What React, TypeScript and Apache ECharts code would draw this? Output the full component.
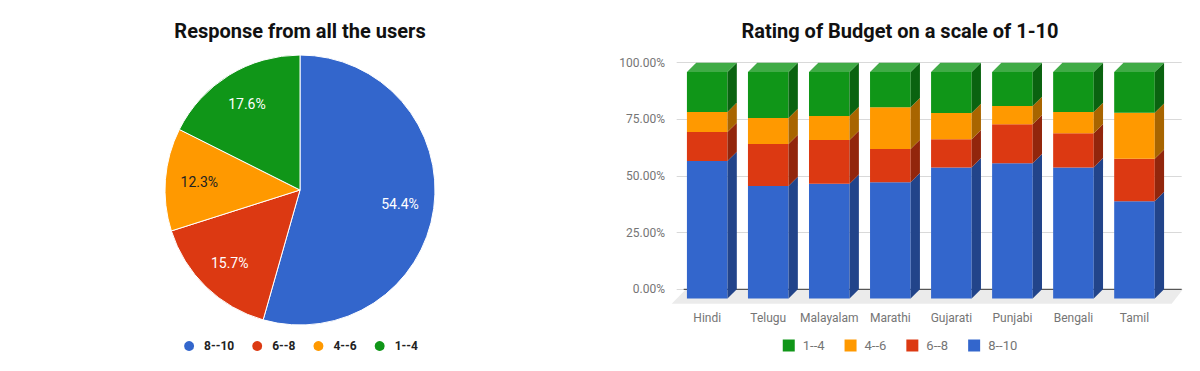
import React, { useEffect, useRef } from 'react';
import * as echarts from 'echarts';

// ---------- Pie data ----------
const pieNames = ['8--10', '6--8', '4--6', '1--4'];
const pieValues = [54.4, 15.7, 12.3, 17.6];
const pieColors = ['#3366cc', '#dc3912', '#ff9900', '#109618'];
const pieLabelColors = ['#ffffff', '#ffffff', '#222222', '#ffffff'];

// ---------- Bar data ----------
const categories = ['Hindi', 'Telugu', 'Malayalam', 'Marathi', 'Gujarati', 'Punjabi', 'Bengali', 'Tamil'];
const r8to10 = [60.7, 49.7, 50.7, 51.3, 57.9, 59.7, 57.9, 43.0];
const r6to8 = [12.8, 18.5, 19.3, 14.7, 12.4, 17.2, 15.1, 18.7];
const r4to6 = [8.9, 11.5, 10.6, 18.4, 11.6, 8.1, 9.3, 20.3];
const r1to4 = [17.6, 20.3, 19.4, 15.6, 18.1, 15.0, 17.7, 18.0];
const yTicks = [0, 25, 50, 75, 100];
const legendOrder = ['1--4', '4--6', '6--8', '8--10'];

const stackDefs = [
  { name: '8--10', values: r8to10, front: '#3366cc', side: '#22448a', topFace: '#5c85d6' },
  { name: '6--8', values: r6to8, front: '#dc3912', side: '#92260c', topFace: '#e3613d' },
  { name: '4--6', values: r4to6, front: '#ff9900', side: '#a86500', topFace: '#ffad33' },
  { name: '1--4', values: r1to4, front: '#109618', side: '#0a6310', topFace: '#40ab46' },
];

const FONT = 'Roboto, "Noto Sans", sans-serif';
const DEPTH = 9.3;
const BAR_RATIO = 0.665;

function PieChart() {
  const ref = useRef<HTMLDivElement>(null);
  useEffect(() => {
    const chart = echarts.init(ref.current!, undefined, { renderer: 'svg' });
    const data = pieNames.map((n, i) => ({ name: n, value: pieValues[i], itemStyle: { color: pieColors[i] } }));
    const labelData = pieNames.map((n, i) => ({
      name: n,
      value: pieValues[i],
      label: { color: pieLabelColors[i] },
    }));
    chart.setOption({
      animation: false,
      textStyle: { fontFamily: FONT },
      title: {
        text: 'Response from all the users',
        left: 'center',
        top: 16,
        textStyle: { fontFamily: FONT, fontSize: 20, fontWeight: 'bold', color: '#111' },
      },
      legend: {
        data: pieNames,
        top: 334,
        left: 'center',
        icon: 'circle',
        itemWidth: 12,
        itemHeight: 12,
        itemGap: 16,
        selectedMode: false,
        textStyle: { fontFamily: FONT, fontSize: 12, fontWeight: 'bold', color: '#222', padding: [0, 0, 0, 4] },
      },
      series: [
        {
          type: 'pie',
          center: [300, 190],
          radius: 135,
          startAngle: 90,
          clockwise: true,
          label: { show: false },
          labelLine: { show: false },
          itemStyle: { borderColor: '#ffffff', borderWidth: 1 },
          emphasis: { disabled: true },
          data,
        },
        {
          type: 'pie',
          center: [300, 190],
          radius: [61, 135],
          startAngle: 90,
          clockwise: true,
          silent: true,
          itemStyle: { color: 'rgba(0,0,0,0)' },
          label: {
            show: true,
            position: 'inside',
            fontFamily: FONT,
            fontSize: 14,
            formatter: (p: any) => p.value.toFixed(1) + '%',
          },
          labelLine: { show: false },
          emphasis: { disabled: true },
          legendHoverLink: false,
          data: labelData,
        },
      ],
    });
    return () => chart.dispose();
  }, []);
  return <div ref={ref} style={{ width: 600, height: 371 }} />;
}

function BarChart() {
  const ref = useRef<HTMLDivElement>(null);
  useEffect(() => {
    const chart = echarts.init(ref.current!, undefined, { renderer: 'svg' });
    const gridLeft = 76.7;
    const gridTop = 62.7;
    const gridBottom = 81.7;

    const cum = categories.map(() => 0);
    const barSeries = stackDefs.map((def, si) => {
      const isTop = si === stackDefs.length - 1;
      const segData = categories.map((c, i) => {
        const start = cum[i];
        const end = start + def.values[i];
        cum[i] = end;
        return [i, start, end];
      });
      return {
        type: 'custom',
        name: def.name,
        xAxisIndex: 1,
        yAxisIndex: 1,
        z: 3,
        clip: false,
        itemStyle: { color: def.front },
        encode: { x: 0, y: [1, 2] },
        data: segData,
        renderItem: (params: any, api: any) => {
          const xi = api.value(0);
          const pb = api.coord([xi, api.value(1)]);
          const pt = api.coord([xi, api.value(2)]);
          const band = api.size([1, 0])[0];
          const w = band * BAR_RATIO;
          const L = pb[0] - w / 2;
          const R = pb[0] + w / 2;
          const yb = pb[1] + DEPTH;
          const yt = pt[1] + DEPTH;
          const children: any[] = [
            { type: 'rect', shape: { x: L, y: yt, width: w, height: yb - yt }, style: { fill: def.front } },
            {
              type: 'polygon',
              shape: { points: [[R, yt], [R + DEPTH, yt - DEPTH], [R + DEPTH, yb - DEPTH], [R, yb]] },
              style: { fill: def.side },
            },
          ];
          if (isTop) {
            children.push({
              type: 'polygon',
              shape: { points: [[L, yt], [L + DEPTH, yt - DEPTH], [R + DEPTH, yt - DEPTH], [R, yt]] },
              style: { fill: def.topFace },
            });
          }
          return { type: 'group', children };
        },
      };
    });

    chart.setOption({
      animation: false,
      textStyle: { fontFamily: FONT },
      title: {
        text: 'Rating of Budget on a scale of 1-10',
        left: 'center',
        top: 16,
        textStyle: { fontFamily: FONT, fontSize: 20, fontWeight: 'bold', color: '#111' },
      },
      legend: {
        data: legendOrder,
        top: 334,
        left: 'center',
        icon: 'rect',
        itemWidth: 12,
        itemHeight: 12,
        itemGap: 20,
        selectedMode: false,
        textStyle: { fontFamily: FONT, fontSize: 13, color: '#757575', padding: [0, 0, 0, 3] },
      },
      grid: [
        { left: gridLeft, right: 18.3, top: gridTop, bottom: gridBottom, containLabel: false },
        { left: gridLeft, width: 488.3, top: gridTop, bottom: gridBottom, containLabel: false },
      ],
      xAxis: [
        { type: 'value', gridIndex: 0, min: 0, max: 1, show: false },
        {
          type: 'category',
          gridIndex: 1,
          data: categories,
          axisLine: { show: false },
          axisTick: { show: false },
          axisLabel: { fontFamily: FONT, fontSize: 12, color: '#757575', margin: 23, interval: 0 },
        },
      ],
      yAxis: [
        {
          type: 'value',
          gridIndex: 0,
          min: yTicks[0],
          max: yTicks[yTicks.length - 1],
          interval: yTicks[1] - yTicks[0],
          axisLine: { show: false },
          axisTick: { show: false },
          axisLabel: {
            fontFamily: FONT,
            fontSize: 12,
            color: '#757575',
            margin: 11.7,
            formatter: (v: number) => v.toFixed(2) + '%',
          },
          splitLine: { show: true, lineStyle: { color: '#d9d9d9', width: 1 } },
        },
        {
          type: 'value',
          gridIndex: 1,
          min: yTicks[0],
          max: yTicks[yTicks.length - 1],
          show: false,
          splitLine: { show: false },
        },
      ],
      series: [
        {
          type: 'custom',
          name: 'floor',
          xAxisIndex: 0,
          yAxisIndex: 0,
          z: 1,
          clip: false,
          silent: true,
          data: [[0, 0]],
          renderItem: (params: any, api: any) => {
            const cs = params.coordSys;
            const y0 = api.coord([0, 0])[1];
            const x0 = cs.x;
            const x1 = cs.x + cs.width;
            const fd = 14.4;
            return {
              type: 'group',
              children: [
                {
                  type: 'polygon',
                  shape: { points: [[x0 + 9.3, y0], [x1 + 1.3, y0], [x1 - 10, y0 + fd], [x0 - 5, y0 + fd]] },
                  style: { fill: '#ebebeb' },
                },
                {
                  type: 'line',
                  shape: { x1: x0 + 7, y1: y0, x2: x1, y2: y0 },
                  style: { stroke: '#333333', lineWidth: 1 },
                },
              ],
            };
          },
        },
        ...barSeries,
      ],
    });
    return () => chart.dispose();
  }, []);
  return <div ref={ref} style={{ width: 600, height: 371 }} />;
}

export default function App() {
  useEffect(() => {
    document.body.style.margin = '0';
  }, []);
  return (
    <div style={{ display: 'flex', width: 1200, height: 371, background: '#ffffff' }}>
      <PieChart />
      <BarChart />
    </div>
  );
}
